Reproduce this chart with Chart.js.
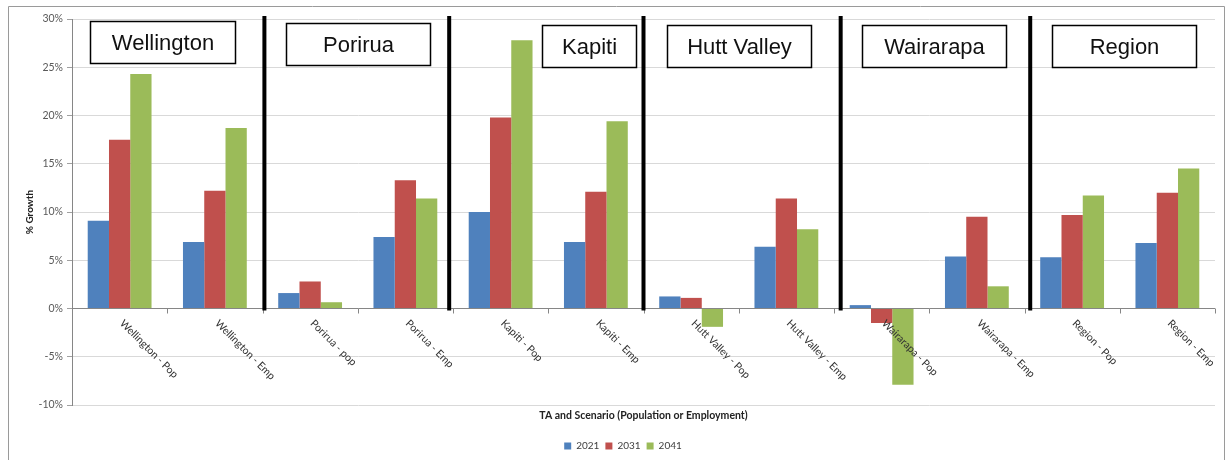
<!DOCTYPE html>
<html>
<head>
<meta charset="utf-8">
<script src="https://cdn.jsdelivr.net/npm/chart.js@4/dist/chart.umd.min.js"></script>
<style>
  html, body { margin: 0; padding: 0; background: #fff; overflow: hidden; }
  #wrap { width: 1226px; height: 460px; }
</style>
</head>
<body>
<div id="wrap"><canvas id="growthChart" width="1226" height="460"></canvas></div>
<script>
// Growth by territorial authority, population and employment scenarios (%)
const categories = [
  'Wellington - Pop', 'Wellington - Emp',
  'Porirua - pop', 'Porirua - Emp',
  'Kapiti - Pop', 'Kapiti - Emp',
  'Hutt Valley - Pop', 'Hutt Valley - Emp',
  'Wairarapa - Pop', 'Wairarapa - Emp',
  'Region - Pop', 'Region - Emp'
];
const years = ['2021', '2031', '2041'];
const growth2021 = [9.1, 6.9, 1.6, 7.4, 10.0, 6.9, 1.25, 6.4, 0.35, 5.4, 5.3, 6.8];
const growth2031 = [17.5, 12.2, 2.8, 13.3, 19.8, 12.1, 1.1, 11.4, -1.5, 9.5, 9.7, 12.0];
const growth2041 = [24.3, 18.7, 0.65, 11.4, 27.8, 19.4, -1.9, 8.2, -7.9, 2.3, 11.7, 14.5];
const yTickValues = [-10, -5, 0, 5, 10, 15, 20, 25, 30];
const areaNames = ['Wellington', 'Porirua', 'Kapiti', 'Hutt Valley', 'Wairarapa', 'Region'];

// Layout of the area captions and dividers (category-index units / pixels)
const captionLayout = [
  { at: 0.45, w: 145, top: 21 },
  { at: 2.50, w: 144, top: 23 },
  { at: 4.93, w: 94,  top: 25 },
  { at: 6.50, w: 144, top: 25 },
  { at: 8.55, w: 144, top: 25 },
  { at: 10.54, w: 144, top: 25 }
];
const dividerAt = [1.52, 3.46, 5.5, 7.57, 9.56];

const seriesColors = ['#4F81BD', '#C0504D', '#9BBB59'];
const seriesValues = [growth2021, growth2031, growth2041];
const FONT = "Lato, 'Liberation Sans', sans-serif";

const decorations = {
  id: 'decorations',
  beforeDraw(chart) {
    const ctx = chart.ctx;
    ctx.save();
    ctx.fillStyle = '#ffffff';
    ctx.fillRect(0, 0, chart.width, chart.height);
    ctx.strokeStyle = '#9a9a9a';
    ctx.lineWidth = 1;
    ctx.beginPath();
    ctx.moveTo(8.5, chart.height + 2);
    ctx.lineTo(8.5, 6.5);
    ctx.lineTo(1224.5, 6.5);
    ctx.lineTo(1224.5, chart.height + 2);
    ctx.stroke();
    ctx.restore();
  },
  afterDatasetsDraw(chart) {
    const ctx = chart.ctx;
    const xs = chart.scales.x;
    const ys = chart.scales.y;
    const zeroY = ys.getPixelForValue(0);
    ctx.save();

    // category boundary tick marks on the zero line
    ctx.strokeStyle = '#868686';
    ctx.lineWidth = 1;
    ctx.beginPath();
    for (let k = 0; k <= categories.length; k++) {
      const px = Math.round(xs.getPixelForValue(k - 0.5)) + 0.5;
      ctx.moveTo(px, zeroY);
      ctx.lineTo(px, zeroY + 5);
    }
    ctx.stroke();

    // category labels, slanted down to the right
    ctx.fillStyle = '#333333';
    ctx.font = "10.5px " + FONT;
    ctx.textAlign = 'left';
    ctx.textBaseline = 'middle';
    categories.forEach((label, i) => {
      const px = xs.getPixelForValue(i);
      ctx.save();
      ctx.translate(px + 2, zeroY + 13);
      ctx.rotate(Math.PI / 4);
      ctx.fillText(label, 0, 0);
      ctx.restore();
    });

    // heavy dividers between areas
    ctx.strokeStyle = '#000000';
    ctx.lineWidth = 4;
    ctx.beginPath();
    dividerAt.forEach(u => {
      const px = xs.getPixelForValue(u);
      ctx.moveTo(px, ys.getPixelForValue(30.3));
      ctx.lineTo(px, ys.getPixelForValue(-0.2));
    });
    ctx.stroke();

    // boxed area captions
    ctx.font = "22px 'Liberation Sans', Arial, sans-serif";
    ctx.textAlign = 'center';
    ctx.textBaseline = 'middle';
    areaNames.forEach((name, i) => {
      const c = captionLayout[i];
      const cx = xs.getPixelForValue(c.at);
      const x0 = Math.round(cx - c.w / 2) + 0.5;
      const y0 = c.top + 0.5;
      const h = 42;
      ctx.fillStyle = '#ffffff';
      ctx.fillRect(x0, y0, c.w, h);
      ctx.strokeStyle = '#000000';
      ctx.lineWidth = 1.5;
      ctx.strokeRect(x0, y0, c.w, h);
      ctx.fillStyle = '#111111';
      ctx.fillText(name, x0 + c.w / 2, y0 + h / 2 + 1);
    });
    ctx.restore();
  }
};

new Chart(document.getElementById('growthChart'), {
  type: 'bar',
  data: {
    labels: categories,
    datasets: years.map((yr, i) => ({
      label: yr,
      data: seriesValues[i],
      backgroundColor: seriesColors[i],
      borderWidth: 0,
      categoryPercentage: 0.67,
      barPercentage: 1.0
    }))
  },
  options: {
    responsive: false,
    animation: false,
    devicePixelRatio: 1,
    layout: { padding: { left: 31, right: 11, top: 19, bottom: -1 } },
    plugins: {
      tooltip: { enabled: false },
      legend: {
        position: 'bottom',
        labels: {
          boxWidth: 7,
          boxHeight: 7,
          padding: 6,
          color: '#404040',
          font: { family: FONT, size: 10 }
        }
      }
    },
    scales: {
      x: {
        grid: { display: false },
        border: { display: false },
        ticks: { display: false },
        title: {
          display: true,
          text: 'TA and Scenario (Population or Employment)',
          color: '#222',
          font: { family: FONT, size: 10.5, weight: 'bold' },
          padding: { top: 0, bottom: 12.7 }
        },
        afterFit(scale) { scale.height = 30; }
      },
      y: {
        min: -10,
        max: 30,
        afterBuildTicks(scale) { scale.ticks = yTickValues.map(v => ({ value: v })); },
        ticks: {
          padding: 4,
          color: '#595959',
          font: { family: FONT, size: 10.5 },
          callback: v => v + '%'
        },
        grid: {
          color: c => (c.tick && c.tick.value === 0) ? '#868686' : '#d9d9d9',
          tickLength: 5,
          tickColor: '#a0a0a0'
        },
        border: { color: '#868686' },
        title: {
          display: true,
          text: '% Growth',
          color: '#222',
          font: { family: FONT, size: 10, weight: 'bold' },
          padding: { top: -7, bottom: 0 }
        },
        afterFit(scale) { scale.width = 41; }
      }
    }
  },
  plugins: [decorations]
});
</script>
</body>
</html>
